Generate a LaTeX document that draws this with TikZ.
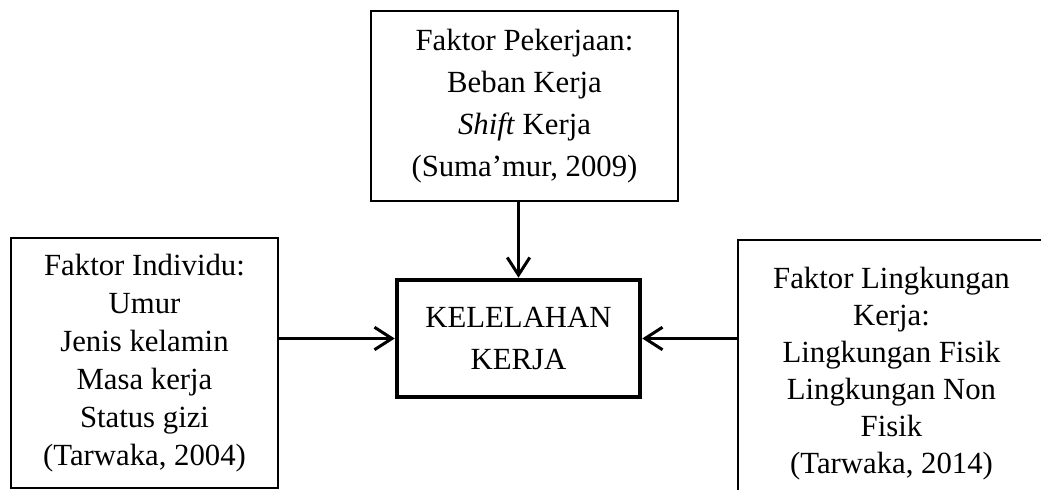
\documentclass[tikz,border=0pt]{standalone}
\usepackage{fontspec}
\setmainfont{Liberation Serif}
\usetikzlibrary{arrows.meta}
\begin{document}
\begin{tikzpicture}[x=0.4pt, y=-0.4pt,
    box/.style={draw, line width=0.8pt, align=center, inner sep=0pt,
      font=\fontsize{12.3}{16.7}\selectfont},
    arr/.style={-{Straight Barb[length=7pt,width=9pt]}, line width=1.2pt}]
  \clip (0, 0) rectangle (1041, 490);
  \node [box, minimum width=122.8pt, minimum height=76pt] (kerja) at (524.5, 106)
    {Faktor Pekerjaan:\\Beban Kerja\\\textit{Shift} Kerja\\(Suma'mur, 2009)};
  \node [box, line width=1.8pt, minimum width=97.2pt, minimum height=46.8pt] (lelah) at (518.5, 338.5)
    {KELELAHAN\\KERJA};
  \node [box, minimum width=106.8pt, minimum height=100pt,
    font=\fontsize{12.3}{15.2}\selectfont] (individu) at (144.5, 363)
    {Faktor Individu:\\Umur\\Jenis kelamin\\Masa kerja\\Status gizi\\(Tarwaka, 2004)};
  \node [box, minimum width=122.8pt, minimum height=107.2pt,
    font=\fontsize{12.3}{14.8}\selectfont] (lingkungan) at (891.5, 374)
    {Faktor Lingkungan\\Kerja:\\Lingkungan Fisik\\Lingkungan Non\\Fisik\\(Tarwaka, 2014)};
  \draw [arr] (lelah.north |- kerja.south) -- (lelah.north);
  \draw [arr] (lelah.west -| individu.east) -- (lelah.west);
  \draw [arr] (lelah.east -| lingkungan.west) -- (lelah.east);
\end{tikzpicture}
\end{document}
